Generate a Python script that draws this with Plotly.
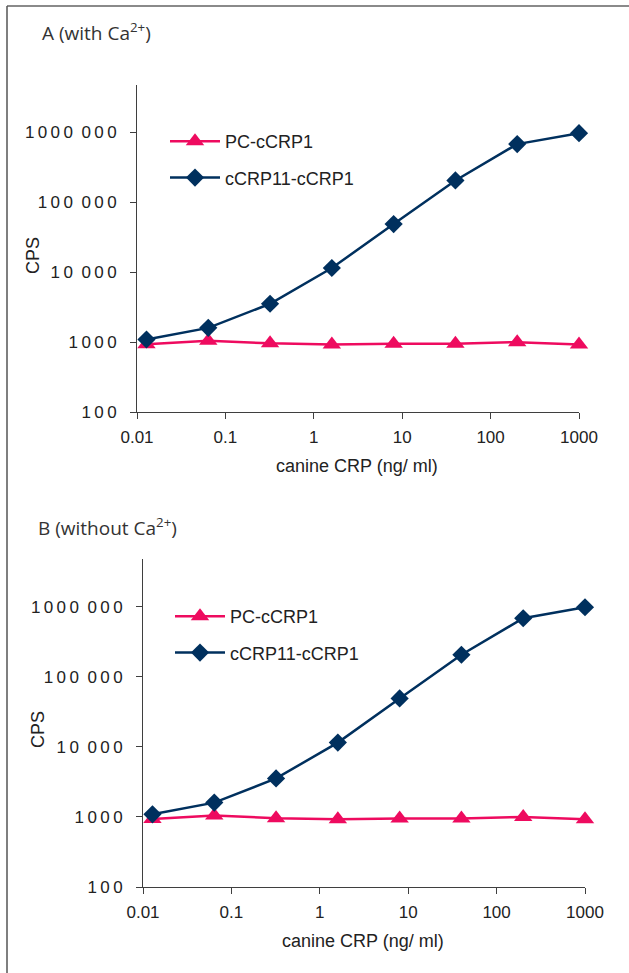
import plotly.graph_objects as go

# ---- data ----
conc = [0.0128, 0.064, 0.32, 1.6, 8, 40, 200, 1000]  # canine CRP (ng/ml)

pc_ccrp1_A = [930, 1050, 960, 925, 950, 950, 1000, 925]
ccrp11_ccrp1_A = [1090, 1600, 3540, 11500, 49000, 206000, 683000, 980000]

pc_ccrp1_B = [930, 1050, 960, 925, 950, 950, 1000, 925]
ccrp11_ccrp1_B = [1090, 1600, 3540, 11500, 49000, 206000, 683000, 980000]

TS = "\u2009"  # thin space used for the spaced-out digits of the y labels
GS = "\u2002"  # group separator
y_tickvals = [100, 1000, 10000, 100000, 1000000]
y_ticktext = [TS.join("100"), TS.join("1000"), TS.join("10") + GS + TS.join("000"),
              TS.join("100") + GS + TS.join("000"), TS.join("1000") + GS + TS.join("000")]
x_tickvals = [0.01, 0.1, 1, 10, 100, 1000]
x_ticktext = ["0.01", "0.1", "1", "10", "100", "1000"]

series_names = ["PC-cCRP1", "cCRP11-cCRP1"]
panel_titles = ["A (with Ca<sup>2+</sup>)", "B (without Ca<sup>2+</sup>)"]
x_title = "canine CRP (ng/ ml)"
y_title = "CPS"

RED = "#EE0B5F"
BLUE = "#00305E"
AX = "#3f3f3f"
W, H = 629, 973

fig = go.Figure()

def px_x(p):
    return p / W

def px_y(p):
    return 1 - p / H

panels = [
    dict(xa="x", ya="y", red=pc_ccrp1_A, blue=ccrp11_ccrp1_A, legend="legend",
         xdom=(137, 579), ydom=(85, 412)),
    dict(xa="x2", ya="y2", red=pc_ccrp1_B, blue=ccrp11_ccrp1_B, legend="legend2",
         xdom=(143, 585), ydom=(559, 887)),
]

for i, p in enumerate(panels):
    fig.add_trace(go.Scatter(
        x=conc, y=p["red"], name=series_names[0], mode="lines+markers",
        line=dict(color=RED, width=2.5), cliponaxis=False,
        marker=dict(symbol="triangle-up", size=16, color=RED),
        xaxis=p["xa"], yaxis=p["ya"], legend=p["legend"], legendgroup="a%d" % i))
    fig.add_trace(go.Scatter(
        x=conc, y=p["blue"], name=series_names[1], mode="lines+markers",
        line=dict(color=BLUE, width=2.5), cliponaxis=False,
        marker=dict(symbol="diamond", size=14, color=BLUE),
        xaxis=p["xa"], yaxis=p["ya"], legend=p["legend"], legendgroup="b%d" % i))

tick_font = dict(family="Liberation Sans, Arial", size=17, color="#222")

def xaxis(dom, anchor):
    return dict(type="log", range=[-2, 3], domain=[px_x(dom[0]), px_x(dom[1])],
                anchor=anchor, tickvals=x_tickvals, ticktext=x_ticktext,
                showline=True, linecolor=AX, linewidth=1, ticks="outside",
                ticklen=6, tickcolor=AX, showgrid=False, zeroline=False,
                ticklabelstandoff=4,
                automargin=False, tickfont=tick_font)

def yaxis(dom, anchor):
    return dict(type="log", range=[2, 6.68], domain=[px_y(dom[1]), px_y(dom[0])],
                anchor=anchor, tickvals=y_tickvals, ticktext=y_ticktext,
                showline=True, linecolor=AX, linewidth=1, ticks="outside",
                ticklen=6, tickcolor=AX, showgrid=False, zeroline=False,
                ticklabelstandoff=10,
                automargin=False, tickfont=tick_font)

legend_font = dict(family="Liberation Sans, Arial", size=18, color="#222")
fig.update_layout(
    template="none",
    width=W, height=H, margin=dict(l=0, r=0, t=0, b=0, pad=0, autoexpand=False),
    paper_bgcolor="white", plot_bgcolor="white",
    xaxis=xaxis(panels[0]["xdom"], "y"), yaxis=yaxis(panels[0]["ydom"], "x"),
    xaxis2=xaxis(panels[1]["xdom"], "y2"), yaxis2=yaxis(panels[1]["ydom"], "x2"),
    legend=dict(x=px_x(165), y=px_y(123), xanchor="left", yanchor="top",
                bgcolor="rgba(0,0,0,0)", traceorder="grouped", tracegroupgap=10,
                itemwidth=50, font=legend_font),
    legend2=dict(x=px_x(170), y=px_y(598), xanchor="left", yanchor="top",
                 bgcolor="rgba(0,0,0,0)", traceorder="grouped", tracegroupgap=10,
                 itemwidth=50, font=legend_font),
    showlegend=True,
)

title_font = dict(family="Open Sans, Lato", size=19, color="#333")
label_font = dict(family="Liberation Sans, Arial", size=18, color="#222")
annots = [
    dict(text=panel_titles[0], x=px_x(40), y=px_y(32), xanchor="left", yanchor="middle", font=title_font),
    dict(text=panel_titles[1], x=px_x(36), y=px_y(527), xanchor="left", yanchor="middle", font=title_font),
    dict(text=x_title, x=px_x(357), y=px_y(466), xanchor="center", yanchor="middle", font=label_font),
    dict(text=x_title, x=px_x(363), y=px_y(941), xanchor="center", yanchor="middle", font=label_font),
    dict(text=y_title, x=px_x(33), y=px_y(256), xanchor="center", yanchor="middle", textangle=-90, font=label_font),
    dict(text=y_title, x=px_x(38), y=px_y(730), xanchor="center", yanchor="middle", textangle=-90, font=label_font),
]
for a in annots:
    a.update(xref="paper", yref="paper", showarrow=False)
fig.update_layout(annotations=annots)

# frame lines (top and left) of the figure card
fig.add_shape(type="line", xref="paper", yref="paper", x0=px_x(7), x1=1, y0=px_y(6), y1=px_y(6),
              line=dict(color="#8a8a8a", width=2))
fig.add_shape(type="line", xref="paper", yref="paper", x0=px_x(7), x1=px_x(7), y0=px_y(6), y1=0,
              line=dict(color="#555", width=1.5))

fig.write_html("out.html", config={"displayModeBar": False},
               post_script="document.body.style.margin='0px';")
